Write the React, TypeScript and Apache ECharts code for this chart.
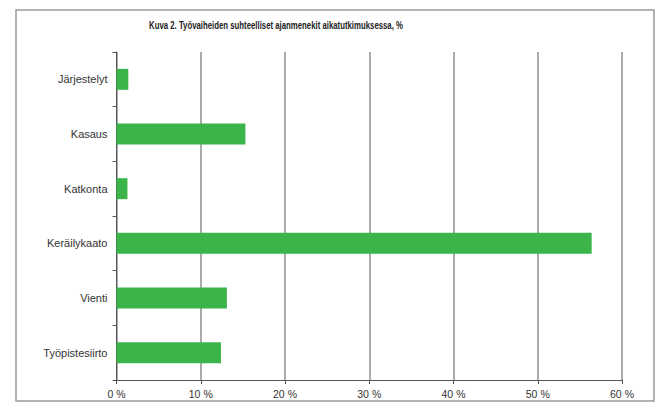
import React, { useEffect, useRef } from "react";
import * as echarts from "echarts";

const titleText = "Kuva 2. Työvaiheiden suhteelliset ajanmenekit aikatutkimuksessa, %";
const categories = ["Järjestelyt", "Kasaus", "Katkonta", "Keräilykaato", "Vienti", "Työpistesiirto"];
const shares = [1.4, 15.3, 1.3, 56.4, 13.1, 12.4];
const axisMin = 0;
const axisMax = 60;
const axisStep = 10;

export default function App() {
  const ref = useRef<HTMLDivElement>(null);
  useEffect(() => {
    if (!ref.current) return;
    const chart = echarts.init(ref.current, null, { renderer: "svg" });
    chart.setOption({
      animation: false,
      backgroundColor: "#ffffff",
      graphic: [
        {
          type: "rect",
          shape: { x: 16, y: 10, width: 638, height: 391 },
          style: { fill: "none", stroke: "#9a9a9a", lineWidth: 1.5 },
          silent: true,
        },
        {
          type: "text",
          x: 276,
          y: 26,
          scaleX: 0.78,
          style: {
            text: titleText,
            align: "center",
            verticalAlign: "middle",
            fontFamily: "Liberation Sans, sans-serif",
            fontSize: 10,
            fontWeight: "bold",
            fill: "#222222",
          },
        },
      ],
      grid: { left: 116.5, right: 36, top: 52, bottom: 24, containLabel: false },
      xAxis: {
        type: "value",
        min: axisMin,
        max: axisMax,
        interval: axisStep,
        axisLine: { show: true, lineStyle: { color: "#555555", width: 1 } },
        axisTick: { show: true, length: 4, lineStyle: { color: "#555555" } },
        splitLine: { show: true, lineStyle: { color: "#8f8f8f", width: 1.5 } },
        axisLabel: {
          formatter: "{value} %",
          color: "#333333",
          fontSize: 10.5,
          fontFamily: "Liberation Sans, sans-serif",
          margin: 8,
        },
      },
      yAxis: {
        type: "category",
        inverse: true,
        data: categories,
        axisLine: { show: true, lineStyle: { color: "#555555", width: 1 } },
        axisTick: { show: true, length: 4, lineStyle: { color: "#555555" } },
        splitLine: { show: false },
        axisLabel: {
          color: "#333333",
          fontSize: 11,
          fontFamily: "Liberation Sans, sans-serif",
          margin: 9,
        },
      },
      series: [
        {
          type: "bar",
          data: shares,
          barWidth: 21,
          itemStyle: { color: "#3bb54a" },
        },
      ],
    });
    return () => chart.dispose();
  }, []);
  return (
    <div
      ref={ref}
      style={{ position: "fixed", left: 0, top: 0, width: 658, height: 404 }}
    />
  );
}
